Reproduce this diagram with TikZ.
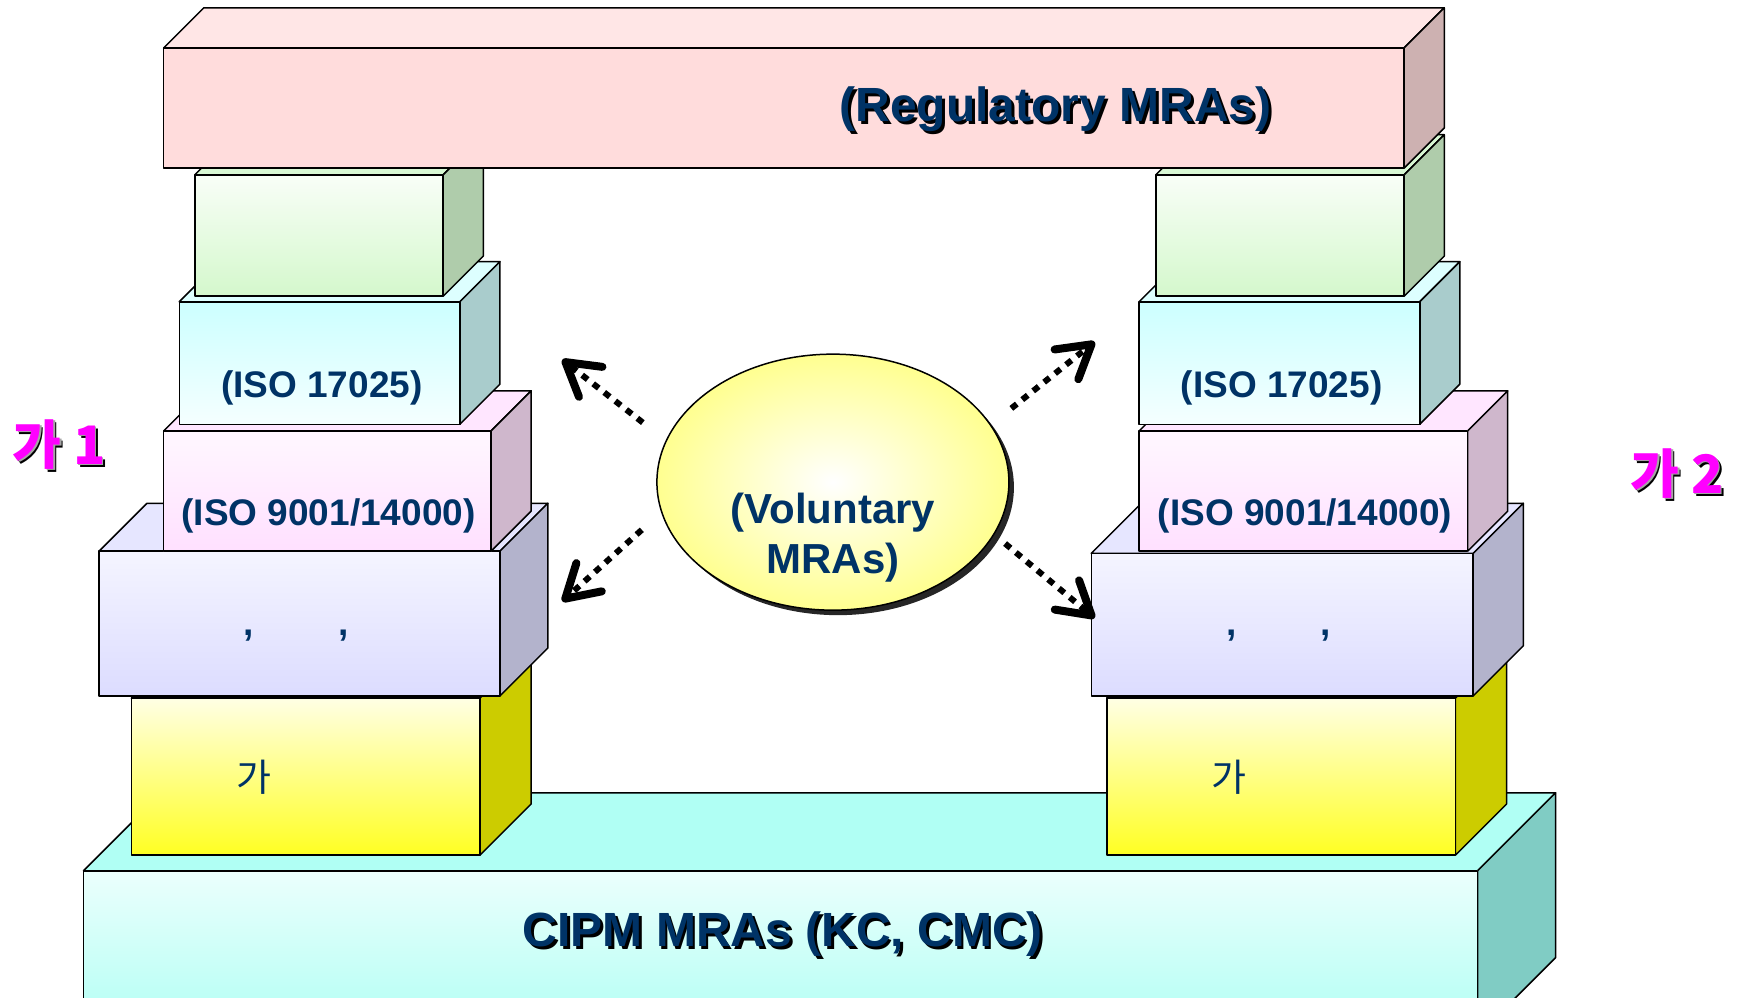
\documentclass[tikz,border=0pt]{standalone}
\usepackage{fontspec}
\setmainfont{Liberation Sans}
\newfontfamily\korfont{Noto Sans CJK KR}
\usepackage{tikz}
\usetikzlibrary{positioning,shapes.geometric,arrows.meta,shadows}

\definecolor{navy}{HTML}{003366}
\definecolor{beamtop}{HTML}{FFDCDC}
\definecolor{beamface}{HTML}{FFE6E6}
\definecolor{beamside}{HTML}{CDB1B1}
\definecolor{greenfront}{HTML}{D4F8CC}
\definecolor{greenface}{HTML}{D8F8D4}
\definecolor{greenside}{HTML}{AFCCAB}
\definecolor{cyanfront}{HTML}{CCFFFF}
\definecolor{cyanface}{HTML}{DDFFFF}
\definecolor{cyanside}{HTML}{A9CCCC}
\definecolor{pinkfront}{HTML}{FFE0FF}
\definecolor{pinkface}{HTML}{FFE6FF}
\definecolor{pinkside}{HTML}{CFB7CC}
\definecolor{lavfront}{HTML}{DCDCFF}
\definecolor{lavface}{HTML}{E6E6FF}
\definecolor{lavside}{HTML}{B3B3CC}
\definecolor{yelfront}{HTML}{FFFF22}
\definecolor{yelface}{HTML}{FFFF55}
\definecolor{yelside}{HTML}{CCCC00}
\definecolor{basefront}{HTML}{B0FFF4}
\definecolor{baseside}{HTML}{80CCC4}
\definecolor{volyellow}{HTML}{FFFF90}
\definecolor{labelpink}{HTML}{FF00FF}

% front face: (#1,#2)-(#3,#4), depth #5, front shading #6, top face #7, side #8
\newcommand{\slab}[8]{%
  \filldraw[slabline,fill=#7] (#1,#2) -- (#1+#5,#2-#5) -- (#3+#5,#2-#5) -- (#3,#2) -- cycle;
  \filldraw[slabline,fill=#8] (#3,#2) -- (#3+#5,#2-#5) -- (#3+#5,#4-#5) -- (#3,#4) -- cycle;
  \shade[slabline,#6] (#1,#2) rectangle (#3,#4);
}

\tikzset{
  slabline/.style={draw=black,line width=1.5pt,line join=round},
  bigtext/.style={font=\fontsize{48}{52}\selectfont\bfseries,text=navy,inner sep=0pt},
  isotext/.style={font=\fontsize{37}{40}\selectfont\bfseries,text=navy,inner sep=0pt},
  kortext/.style={font=\korfont\fontsize{38}{40}\selectfont,text=navy,inner sep=0pt},
  voltext/.style={font=\fontsize{42}{50}\selectfont\bfseries,text=navy,align=center,inner sep=0pt},
  sidelabel/.style={font=\korfont\bfseries\fontsize{53}{56}\selectfont,inner sep=0pt},
  flow/.style={line width=6pt,dash pattern=on 7pt off 7pt,
    -{Straight Barb[length=32pt,width=38pt,line width=8pt,round]}}
}

\begin{document}
\begin{tikzpicture}[x=1.1135pt,y=-1.1135pt]
  \clip (0,0) rectangle (1568,896);
  \useasboundingbox (0,0) rectangle (1568,896);

  % base
  \slab{75}{782}{1327}{930}{70}{top color=basefront!25,bottom color=basefront}{basefront}{baseside}
  % yellow
  \slab{118}{627}{431}{768}{46}{top color=yelfront!12,middle color=yelfront!8,bottom color=yelfront}{yelface}{yelside}
  \slab{994}{627}{1307}{768}{46}{top color=yelfront!12,middle color=yelfront!8,bottom color=yelfront}{yelface}{yelside}
  % lavender
  \slab{89}{495}{449}{625}{43}{top color=lavfront!30,middle color=white,bottom color=lavfront}{lavface}{lavside}
  \slab{980}{497}{1323}{625}{45}{top color=lavfront!30,middle color=white,bottom color=lavfront}{lavface}{lavside}
  % pink
  \slab{147}{387}{441}{495}{36}{top color=pinkfront!25,bottom color=pinkfront}{pinkface}{pinkside}
  \slab{1023}{387}{1318}{495}{36}{top color=pinkfront!25,bottom color=pinkfront}{pinkface}{pinkside}
  % cyan
  \slab{161}{271}{413}{381}{36}{top color=cyanfront,bottom color=cyanfront!20}{cyanface}{cyanside}
  \slab{1023}{271}{1275}{381}{36}{top color=cyanfront,bottom color=cyanfront!20}{cyanface}{cyanside}
  % green
  \slab{175}{157}{398}{266}{36}{top color=greenfront!15,middle color=white,bottom color=greenfront}{greenface}{greenside}
  \slab{1038}{157}{1261}{266}{36}{top color=greenfront!15,middle color=white,bottom color=greenfront}{greenface}{greenside}
  % beam
  \slab{147}{43}{1261}{151}{36}{top color=beamtop,middle color=white,bottom color=beamtop}{beamface}{beamside}

  % texts
  \node[bigtext,text=black] (regshade) at (950.5,100.5) {(Regulatory MRAs)};
  \node[bigtext] (reg) at (948,98) {(Regulatory MRAs)};
  \node[bigtext,text=black] (cipmshade) at (705.5,841.5) {CIPM MRAs (KC, CMC)};
  \node[bigtext] (cipm) at (703,839) {CIPM MRAs (KC, CMC)};

  \node[isotext] (isoleft) at (289,348) {(ISO 17025)};
  \node[isotext] (isoright) at (1151,348) {(ISO 17025)};
  \node[isotext] (qmsleft) at (295,463) {(ISO 9001/14000)};
  \node[isotext] (qmsright) at (1172,463) {(ISO 9001/14000)};

  \node[isotext] (commaleft) at (266,571) {,\hspace{84pt},};
  \node[isotext] (commaright) at (1148,571) {,\hspace{84pt},};
  \node[kortext] (galeft) at (228,698) {가};
  \node[kortext] (garight) at (1104,698) {가};

  % side labels
  \node[sidelabel,text=black] (oneshade) at (56,402) {가 1};
  \node[sidelabel,text=black!35] (onegray) at (54.5,400.5) {가 1};
  \node[sidelabel,text=labelpink] (one) at (53,399) {가 1};
  \node[sidelabel,text=black] (twoshade) at (1509,428) {가 2};
  \node[sidelabel,text=black!35] (twogray) at (1507.5,426.5) {가 2};
  \node[sidelabel,text=labelpink] (two) at (1506,425) {가 2};

  % voluntary
  \node[ellipse,draw,line width=1.5pt,minimum width=352pt,minimum height=256pt,
    inner color=white,outer color=volyellow,
    drop shadow={shadow xshift=5pt,shadow yshift=-5pt,fill=black!85,opacity=1}] (vol) at (748,433) {};
  \node[voltext] (voltxt) at (748,483) {(Voluntary\\MRAs)};

  \coordinate (ulto) at (505,323);
  \coordinate (llto) at (505,540);
  \coordinate (urto) at (983,307);
  \coordinate (lrto) at (983,555);

  \draw[flow,shorten <=29pt] (vol.166) -- (ulto);
  \draw[flow,shorten <=26pt] (vol.190) -- (llto);
  \draw[flow,shorten <=26pt] (vol.20) -- (urto);
  \draw[flow,shorten <=14pt] (vol.342) -- (lrto);
\end{tikzpicture}
\end{document}
